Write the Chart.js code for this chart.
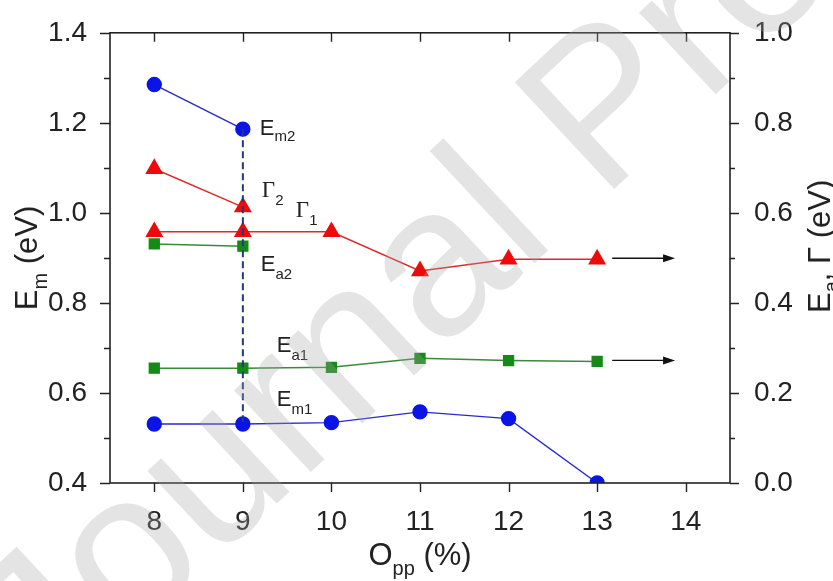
<!DOCTYPE html>
<html>
<head>
<meta charset="utf-8">
<script src="https://cdn.jsdelivr.net/npm/chart.js@4.4.0/dist/chart.umd.min.js"></script>
<style>
html, body { margin: 0; padding: 0; background: #fff; }
#wrap { width: 833px; height: 581px; }
</style>
</head>
<body>
<div id="wrap"><canvas id="chart" width="833" height="581"></canvas></div>
<script>
// x values: O_pp (%)
const oppLong = [8, 9, 10, 11, 12, 13];
const oppShort = [8, 9];
const xTicks = [8, 9, 10, 11, 12, 13, 14];

// left axis, E_m (eV)
const em1 = [0.531, 0.531, 0.534, 0.558, 0.543, 0.400];
const em2 = [1.285, 1.186];

// right axis, E_a and Gamma (eV)
const ea1 = [0.255, 0.255, 0.257, 0.277, 0.272, 0.270];
const ea2 = [0.531, 0.526];
const gamma1 = [0.558, 0.558, 0.558, 0.471, 0.497, 0.497];
const gamma2 = [0.698, 0.613];

const leftTicks = [0.4, 0.6, 0.8, 1.0, 1.2, 1.4];
const rightTicks = [0.0, 0.2, 0.4, 0.6, 0.8, 1.0];

// arrows pointing to the right axis (x span in O_pp units)
const arrowFrom = 13.17;
const arrowTo = 13.88;

const SANS = '"Liberation Sans", Arial, sans-serif';
const SERIF = '"Liberation Serif", "Times New Roman", serif';

function pts(xs, ys) {
    return xs.map((x, i) => ({ x: x, y: ys[i] }));
}

// draw "main" followed by a lowered subscript, returns end x
function subText(ctx, x, y, main, sub, mainFont, subFont, drop) {
    ctx.font = mainFont;
    ctx.fillText(main, x, y);
    x += ctx.measureText(main).width;
    ctx.font = subFont;
    ctx.fillText(sub, x, y + drop);
    return x + ctx.measureText(sub).width;
}

const decorations = {
    id: 'decorations',
    beforeDraw(chart) {
        const ctx = chart.ctx;
        ctx.save();
        ctx.fillStyle = '#fff';
        ctx.fillRect(0, 0, chart.width, chart.height);
        ctx.restore();
    },
    afterDatasetsDraw(chart) {
        const { ctx, chartArea: a, scales } = chart;
        const xs = scales.x, yl = scales.y, yr = scales.y1;
        ctx.save();
        ctx.strokeStyle = '#222';
        ctx.lineWidth = 1.6;
        ctx.strokeRect(a.left, a.top, a.right - a.left, a.bottom - a.top);

        ctx.lineWidth = 1.4;
        ctx.beginPath();
        // x ticks: outward at bottom, inward at top
        xTicks.forEach(v => {
            const px = Math.round(xs.getPixelForValue(v)) + 0.5;
            ctx.moveTo(px, a.bottom); ctx.lineTo(px, a.bottom + 9);
            ctx.moveTo(px, a.top); ctx.lineTo(px, a.top + 9);
        });
        // left ticks
        leftTicks.forEach((v, i) => {
            const py = Math.round(yl.getPixelForValue(v)) + 0.5;
            ctx.moveTo(a.left, py); ctx.lineTo(a.left - 10, py);
            if (i < leftTicks.length - 1) {
                const m = Math.round(yl.getPixelForValue((v + leftTicks[i + 1]) / 2)) + 0.5;
                ctx.moveTo(a.left, m); ctx.lineTo(a.left - 6, m);
            }
        });
        // right ticks
        rightTicks.forEach((v, i) => {
            const py = Math.round(yr.getPixelForValue(v)) + 0.5;
            ctx.moveTo(a.right, py); ctx.lineTo(a.right + 9, py);
            if (i < rightTicks.length - 1) {
                const m = Math.round(yr.getPixelForValue((v + rightTicks[i + 1]) / 2)) + 0.5;
                ctx.moveTo(a.right, m); ctx.lineTo(a.right + 5, m);
            }
        });
        ctx.stroke();
        ctx.restore();
    },
    afterDraw(chart) {
        const { ctx, chartArea: a, scales } = chart;
        const xs = scales.x, yl = scales.y, yr = scales.y1;
        ctx.save();
        ctx.fillStyle = '#222';
        ctx.textBaseline = 'alphabetic';
        ctx.textAlign = 'left';

        // arrows
        ctx.strokeStyle = '#111';
        ctx.fillStyle = '#111';
        ctx.lineWidth = 1.3;
        [gamma1[gamma1.length - 1], ea1[ea1.length - 1]].forEach(v => {
            const y = yr.getPixelForValue(v) - 1;
            const x0 = xs.getPixelForValue(arrowFrom), x1 = xs.getPixelForValue(arrowTo);
            ctx.beginPath();
            ctx.moveTo(x0, y); ctx.lineTo(x1 - 8, y);
            ctx.stroke();
            ctx.beginPath();
            ctx.moveTo(x1, y); ctx.lineTo(x1 - 12, y - 4); ctx.lineTo(x1 - 12, y + 4);
            ctx.closePath();
            ctx.fill();
        });

        // series labels
        ctx.fillStyle = '#222';
        const mf = '22px ' + SANS, sf = '15px ' + SANS;
        const gf = '23px ' + SERIF;
        const x9 = xs.getPixelForValue(9);
        subText(ctx, x9 + 17, yl.getPixelForValue(em2[1]) + 6, 'E', 'm2', mf, sf, 6);
        subText(ctx, x9 + 19, yr.getPixelForValue(gamma2[1]) - 10, 'Γ', '2', gf, sf, 8);
        subText(ctx, x9 + 53, yr.getPixelForValue(gamma1[1]) - 15, 'Γ', '1', gf, sf, 8);
        subText(ctx, x9 + 18, yr.getPixelForValue(ea2[1]) + 25, 'E', 'a2', mf, sf, 8);
        subText(ctx, x9 + 34, yr.getPixelForValue(ea1[1]) - 16, 'E', 'a1', mf, sf, 8);
        subText(ctx, x9 + 34, yl.getPixelForValue(em1[1]) - 18, 'E', 'm1', mf, sf, 8);

        // axis titles
        const tf = '31px ' + SANS, tsf = '20px ' + SANS;
        // bottom
        ctx.save();
        let w;
        ctx.font = tf; w = ctx.measureText('O').width + ctx.measureText(' (%)').width;
        ctx.font = tsf; w += ctx.measureText('pp').width;
        let x = (a.left + a.right) / 2 - w / 2;
        x = subText(ctx, x, 565, 'O', 'pp', tf, tsf, 10);
        ctx.font = tf; ctx.fillText(' (%)', x, 565);
        ctx.restore();

        // left
        ctx.save();
        ctx.translate(37, (a.top + a.bottom) / 2);
        ctx.rotate(-Math.PI / 2);
        ctx.font = tf; w = ctx.measureText('E').width + ctx.measureText(' (eV)').width;
        ctx.font = tsf; w += ctx.measureText('m').width;
        x = subText(ctx, -w / 2, 0, 'E', 'm', tf, tsf, 10);
        ctx.font = tf; ctx.fillText(' (eV)', x, 0);
        ctx.restore();

        // right
        ctx.save();
        ctx.translate(830, 313);
        ctx.rotate(-Math.PI / 2);
        x = subText(ctx, 0, 0, 'E', 'a', tf, tsf, 8);
        ctx.font = tf; ctx.fillText(', Γ (eV)', x, 0);
        ctx.restore();

        // watermark, translucent over everything
        ctx.save();
        ctx.translate(50, 715);
        ctx.rotate(-43 * Math.PI / 180);
        ctx.font = '212px ' + SANS;
        ctx.fillStyle = 'rgba(165, 165, 165, 0.3)';
        ctx.fillText('Journal Pre-proof', 0, 0);
        ctx.restore();

        ctx.restore();
    }
};

const blueLine = '#2a2ad0', blueDot = '#0a14e6';
const redLine = '#e02828', redDot = '#ee0a0a';
const greenLine = '#3a8a3a', greenDot = '#168a16';

const ctx = document.getElementById('chart').getContext('2d');
new Chart(ctx, {
    type: 'line',
    data: {
        datasets: [
            {
                label: 'link', yAxisID: 'y', order: 0,
                data: [{ x: oppShort[1], y: em2[1] }, { x: oppShort[1], y: em1[1] }],
                borderColor: '#1f3a80', borderWidth: 2, borderDash: [7, 4], pointRadius: 0
            },
            {
                label: 'Em2', yAxisID: 'y', order: 1, data: pts(oppShort, em2),
                borderColor: blueLine, borderWidth: 1.4, pointStyle: 'circle', pointRadius: 7,
                pointBackgroundColor: blueDot, pointBorderColor: blueDot
            },
            {
                label: 'Em1', yAxisID: 'y', order: 1, data: pts(oppLong, em1),
                borderColor: blueLine, borderWidth: 1.4, pointStyle: 'circle', pointRadius: 7,
                pointBackgroundColor: blueDot, pointBorderColor: blueDot
            },
            {
                label: 'G2', yAxisID: 'y1', order: 2, data: pts(oppShort, gamma2),
                borderColor: redLine, borderWidth: 1.4, pointStyle: 'triangle', pointRadius: 9,
                pointBackgroundColor: redDot, pointBorderColor: redDot
            },
            {
                label: 'G1', yAxisID: 'y1', order: 2, data: pts(oppLong, gamma1),
                borderColor: redLine, borderWidth: 1.4, pointStyle: 'triangle', pointRadius: 9,
                pointBackgroundColor: redDot, pointBorderColor: redDot
            },
            {
                label: 'Ea2', yAxisID: 'y1', order: 3, data: pts(oppShort, ea2),
                borderColor: greenLine, borderWidth: 1.4, pointStyle: 'rect', pointRadius: 7,
                pointBackgroundColor: greenDot, pointBorderColor: greenDot
            },
            {
                label: 'Ea1', yAxisID: 'y1', order: 3, data: pts(oppLong, ea1),
                borderColor: greenLine, borderWidth: 1.4, pointStyle: 'rect', pointRadius: 7,
                pointBackgroundColor: greenDot, pointBorderColor: greenDot
            }
        ]
    },
    options: {
        responsive: false,
        animation: false,
        devicePixelRatio: 1,
        layout: { padding: { top: 24, left: 0, right: 0, bottom: 0 } },
        plugins: { legend: { display: false }, tooltip: { enabled: false } },
        elements: { line: { tension: 0 } },
        scales: {
            x: {
                type: 'linear', min: 7.5, max: 14.5,
                afterBuildTicks: s => { s.ticks = xTicks.map(v => ({ value: v })); },
                afterFit: s => { s.height = 98; },
                grid: { display: false }, border: { display: false },
                ticks: { font: { family: SANS, size: 28 }, color: '#222', padding: 14,
                         maxRotation: 0, autoSkip: false, callback: v => String(v) }
            },
            y: {
                position: 'left', min: 0.4, max: 1.4,
                afterBuildTicks: s => { s.ticks = leftTicks.map(v => ({ value: v })); },
                afterFit: s => { s.width = 110; },
                grid: { display: false }, border: { display: false },
                ticks: { font: { family: SANS, size: 28 }, color: '#222', padding: 15,
                         callback: v => v.toFixed(1) }
            },
            y1: {
                position: 'right', min: 0, max: 1.0,
                afterBuildTicks: s => { s.ticks = rightTicks.map(v => ({ value: v })); },
                afterFit: s => { s.width = 103; },
                grid: { display: false }, border: { display: false },
                ticks: { font: { family: SANS, size: 28 }, color: '#222', padding: 16,
                         callback: v => v.toFixed(1) }
            }
        }
    },
    plugins: [decorations]
});
</script>
</body>
</html>
